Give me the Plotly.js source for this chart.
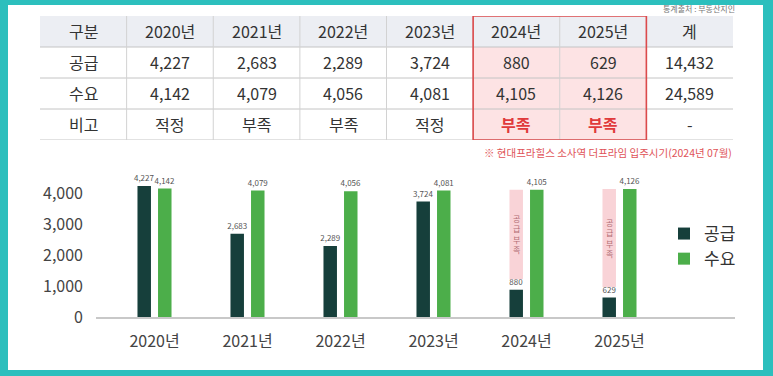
<!DOCTYPE html>
<html>
<head>
<meta charset="utf-8">
<script src="https://cdn.plot.ly/plotly-3.0.1.min.js"></script>
<style>
  html, body { margin: 0; padding: 0; background: #2cbfbd; }
  #chart { width: 773px; height: 376px; }
</style>
</head>
<body>
<div id="chart"></div>
<script>
// ---- data ----
const years = ['2020년', '2021년', '2022년', '2023년', '2024년', '2025년'];
const supply = [4227, 2683, 2289, 3724, 880, 629];
const demand = [4142, 4079, 4056, 4081, 4105, 4126];
const remarks = ['적정', '부족', '부족', '적정', '부족', '부족'];
const shortageYears = ['2024년', '2025년'];
const rowLabels = ['구분', '공급', '수요', '비고'];
const totalLabel = '계';
const totalRemark = '-';
const seriesNames = ['공급', '수요'];
const shortageLabel = '공급부족';
const yTickVals = [0, 1000, 2000, 3000, 4000];
const sourceText = '통계출처 : 부동산지인';
const noteText = '※ 현대프라힐스 소사역 더프라임 입주시기(2024년 07월)';

// ---- helpers ----
const W = 773, H = 376;
const px = v => v / W;
const py = v => 1 - v / H;
const fmt = n => n.toLocaleString('en-US');
const sum = a => a.reduce((s, v) => s + v, 0);
const FONT = '"Noto Sans CJK KR", "Noto Sans", sans-serif';

const DARK = '#163f3b';
const GREEN = '#4cae4a';
const PINK = '#f9d3d7';
const RED = '#e03a3c';

// bar geometry (in category units)
const BW = 0.145;
const OFF_A = -0.183;
const OFF_B = 0.038;

// ---- bar traces ----
const shortIdx = shortageYears.map(y => years.indexOf(y));
const pad = 340;
const labelFont = { family: FONT, size: 8, color: '#555' };
const traces = [
  {
    type: 'bar', name: seriesNames[0], x: years, y: supply,
    width: BW, offset: OFF_A,
    marker: { color: DARK },
    text: supply.map(fmt), textposition: 'outside', cliponaxis: false,
    constraintext: 'none', textfont: labelFont,
    hoverinfo: 'x+y+name'
  },
  {
    type: 'bar', name: seriesNames[1], x: years, y: demand,
    width: BW, offset: OFF_B,
    marker: { color: GREEN },
    text: demand.map(fmt), textposition: 'outside', cliponaxis: false,
    constraintext: 'none', textfont: labelFont,
    hoverinfo: 'x+y+name'
  },
  {
    type: 'bar', name: shortageLabel, showlegend: false,
    x: shortIdx.map(i => years[i]),
    base: shortIdx.map(i => supply[i] + pad),
    y: shortIdx.map(i => demand[i] - supply[i] - pad),
    width: BW, offset: OFF_A,
    marker: { color: PINK }, hoverinfo: 'skip'
  }
];

// ---- annotations & shapes ----
const annotations = [];
const shapes = [];

// white card on teal frame
shapes.push({ type: 'rect', xref: 'paper', yref: 'paper', layer: 'below',
  x0: px(8), x1: px(763), y0: py(370), y1: py(5),
  fillcolor: '#ffffff', line: { width: 0 } });

// table via hidden axes x2/y2 (columns, rows)
const header = [rowLabels[0], ...years, totalLabel];
const rows = [
  header,
  [rowLabels[1], ...supply.map(fmt), fmt(sum(supply))],
  [rowLabels[2], ...demand.map(fmt), fmt(sum(demand))],
  [rowLabels[3], ...remarks, totalRemark]
];
const nCols = header.length, nRows = rows.length;
const hiCols = shortageYears.map(y => header.indexOf(y));
const hiMin = Math.min(...hiCols), hiMax = Math.max(...hiCols);

shapes.push({ type: 'rect', xref: 'x2', yref: 'y2', layer: 'below',
  x0: -0.5, x1: nCols - 0.5, y0: -0.5, y1: 0.5,
  fillcolor: '#eceef3', line: { width: 0 } });
shapes.push({ type: 'rect', xref: 'x2', yref: 'y2', layer: 'below',
  x0: hiMin - 0.5, x1: hiMax + 0.5, y0: 0.5, y1: nRows - 0.5,
  fillcolor: '#fde3e4', line: { width: 0 } });
for (let r = 0; r < nRows; r++) {
  shapes.push({ type: 'line', xref: 'x2', yref: 'y2', layer: 'below',
    x0: -0.5, x1: nCols - 0.5, y0: r + 0.5, y1: r + 0.5,
    line: { color: '#c4c4c4', width: 1 } });
}
for (let c = 0; c < nCols - 1; c++) {
  shapes.push({ type: 'line', xref: 'x2', yref: 'y2', layer: 'below',
    x0: c + 0.5, x1: c + 0.5, y0: -0.5, y1: nRows - 0.5,
    line: { color: '#d2d2d2', width: 1 } });
}
shapes.push({ type: 'rect', xref: 'x2', yref: 'y2', layer: 'above',
  x0: hiMin - 0.5, x1: hiMax + 0.5, y0: -0.5, y1: nRows - 0.5,
  fillcolor: 'rgba(0,0,0,0)', line: { color: '#dc4a4c', width: 1.6 } });

rows.forEach((row, r) => {
  row.forEach((txt, c) => {
    const hi = (r === nRows - 1) && hiCols.includes(c);
    annotations.push({ xref: 'x2', yref: 'y2', x: c, y: r,
      text: hi ? '<b>' + txt + '</b>' : txt, showarrow: false,
      font: { family: FONT, size: 16, color: hi ? RED : '#333' } });
  });
});

annotations.push({ xref: 'paper', yref: 'paper', x: px(737), y: py(8),
  xanchor: 'right', yanchor: 'middle', text: sourceText, showarrow: false,
  font: { family: FONT, size: 8, color: '#777' } });
annotations.push({ xref: 'paper', yref: 'paper', x: px(734), y: py(152),
  xanchor: 'right', yanchor: 'middle', text: noteText, showarrow: false,
  font: { family: FONT, size: 10.5, color: '#e05358' } });

// vertical "공급부족" labels centred on the pink bars
shortIdx.forEach(i => {
  annotations.push({ xref: 'x', yref: 'y', x: i + OFF_A + BW / 2,
    y: (supply[i] + pad + demand[i]) / 2,
    text: shortageLabel.split('').join('<br>'), showarrow: false,
    font: { family: FONT, size: 8, color: '#b26d74' } });
});

const layout = {
  width: W, height: H,
  margin: { l: 0, r: 0, t: 0, b: 0 },
  paper_bgcolor: '#2cbfbd',
  plot_bgcolor: 'rgba(0,0,0,0)',
  showlegend: true,
  barmode: 'group',
  font: { family: FONT, color: '#333' },
  xaxis: {
    domain: [px(96), px(735)], range: [-0.629, 6.242],
    type: 'category', showline: true, linecolor: '#c8c8c8', linewidth: 1.5,
    showgrid: false, zeroline: false, ticks: '', fixedrange: true,
    ticklabelstandoff: 9,
    tickfont: { family: FONT, size: 16, color: '#444' }, automargin: false
  },
  yaxis: {
    domain: [py(317), py(160)], range: [0, 5065],
    tickvals: yTickVals, ticktext: yTickVals.map(fmt),
    showgrid: false, zeroline: false, showline: false, ticks: '',
    ticklabelstandoff: 12,
    tickfont: { family: FONT, size: 16, color: '#444' }, automargin: false
  },
  xaxis2: { domain: [px(40), px(733)], range: [-0.5, 7.5], visible: false, fixedrange: true, anchor: 'y2' },
  yaxis2: { domain: [py(140), py(16)], range: [3.5, -0.5], visible: false, fixedrange: true, anchor: 'x2' },
  legend: {
    x: px(664), y: py(216), xanchor: 'left', yanchor: 'top',
    bgcolor: 'rgba(0,0,0,0)', itemwidth: 30, tracegroupgap: 0,
    font: { family: FONT, size: 17, color: '#333' }
  },
  shapes: shapes,
  annotations: annotations
};

Plotly.newPlot('chart', traces, layout, { displayModeBar: false, staticPlot: true });
</script>
</body>
</html>
